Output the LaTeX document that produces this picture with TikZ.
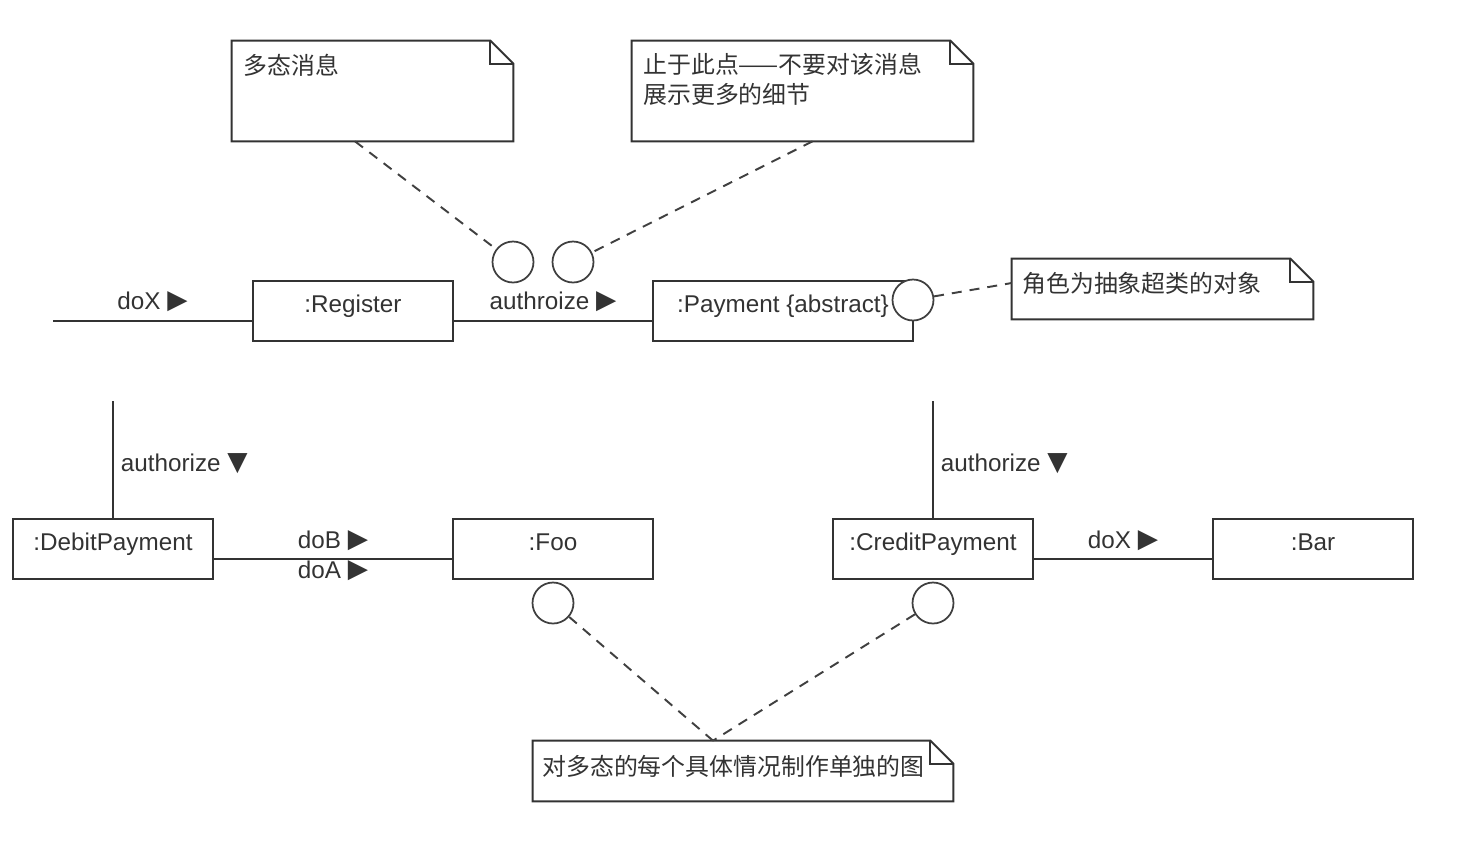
\documentclass[tikz,border=0pt]{standalone}
\usepackage{fontspec}
\setmainfont{Liberation Sans}
\newfontfamily\cjkfont{Noto Sans CJK SC}
\newfontfamily\symfont{DejaVu Sans}
\newcommand\rtri{\raisebox{0.04em}{\symfont\fontsize{15pt}{15pt}\selectfont ▶}}
\newcommand\dtri{\raisebox{0.04em}{\symfont\fontsize{15pt}{15pt}\selectfont ▼}}
% outline of a UML note with a folded top-right corner
\newcommand\notefold[1]{%
  \draw[noteline] (#1.north west) -- ([xshift=-0.46cm]#1.north east)
    -- ([yshift=-0.46cm]#1.north east) -- (#1.south east) -- (#1.south west) -- cycle;
  \draw[noteline] ([xshift=-0.46cm]#1.north east)
    -- ([xshift=-0.46cm,yshift=-0.46cm]#1.north east) -- ([yshift=-0.46cm]#1.north east);}

\begin{document}
\begin{tikzpicture}[x=0.02cm, y=-0.02cm,
  font=\fontsize{13.8pt}{17pt}\selectfont,
  obj/.style={draw=black!80, line width=1.1pt, fill=white, minimum width=4cm,
    minimum height=1.2cm, inner sep=0pt, text=black!80,
    text height=0.72em, text depth=0.5em},
  notebody/.style={rectangle, draw=none, inner sep=0pt},
  noteline/.style={draw=black!80, line width=1.1pt, line join=miter},
  notetext/.style={inner sep=0pt, text=black!80,
    font=\cjkfont\fontsize{13.6pt}{17pt}\selectfont},
  port/.style={circle, draw=black!75, line width=1pt, fill=white,
    minimum size=0.82cm, inner sep=0pt},
  conn/.style={draw=black!80, line width=1.1pt},
  dashline/.style={draw=black!75, line width=1.1pt, dash pattern=on 0.2cm off 0.16cm},
  lbl/.style={inner sep=0pt, text=black!80, text height=0.72em, text depth=0pt}]

\useasboundingbox (0,0) rectangle (1474,840);

% notes
\node[notebody, minimum width=5.62cm, minimum height=2cm] (n1) at (372.5,91) {};
\node[notebody, minimum width=6.82cm, minimum height=2cm] (n2) at (802.5,91) {};
\node[notebody, minimum width=6.02cm, minimum height=1.2cm] (n3) at (1162.5,289) {};
\node[notebody, minimum width=8.4cm, minimum height=1.2cm] (n4) at (743,771) {};
\notefold{n1}
\notefold{n2}
\notefold{n3}
\notefold{n4}
\node[notetext, anchor=west] (t1) at (243,65) {多态消息};
\node[notetext, anchor=north west, align=left] (t2) at (643,53)
  {止于此点——不要对该消息\\展示更多的细节};
\node[notetext, anchor=west] (t3) at (1022,283) {角色为抽象超类的对象};
\node[notetext, anchor=west] (t4) at (542,766) {对多态的每个具体情况制作单独的图};

% objects
\node[obj] (reg) at (353,311) {:Register};
\node[obj, minimum width=5.2cm] (pay) at (783,311) {:Payment \{abstract\}\hspace{0.08cm}};
\node[obj] (deb) at (113,549) {:DebitPayment};
\node[obj] (foo) at (553,549) {:Foo};
\node[obj] (cre) at (933,549) {:CreditPayment};
\node[obj] (bar) at (1313,549) {:Bar};

% links and messages
\coordinate (s0) at (53,321);
\coordinate (s1) at (113,401);
\coordinate (s2) at (933,401);
\draw[conn] (s0) -- ([yshift=-0.2cm]reg.west)
  node[lbl, midway, yshift=0.35cm] {doX \rtri};
\draw[conn] ([yshift=-0.2cm]reg.east) -- ([yshift=-0.2cm]pay.west)
  node[lbl, midway, yshift=0.35cm] {authroize \rtri};
\draw[conn] (s1) -- (deb.north)
  node[lbl, pos=0.545, anchor=west, xshift=0.14cm] {authorize \dtri};
\draw[conn] (s2) -- (cre.north)
  node[lbl, pos=0.545, anchor=west, xshift=0.14cm] {authorize \dtri};
\draw[conn] ([yshift=-0.2cm]deb.east) -- ([yshift=-0.2cm]foo.west)
  node[lbl, midway, yshift=0.34cm] {doB \rtri}
  node[lbl, midway, yshift=-0.26cm] {doA \rtri};
\draw[conn] ([yshift=-0.2cm]cre.east) -- ([yshift=-0.2cm]bar.west)
  node[lbl, midway, yshift=0.34cm] {doX \rtri};

% attachment points
\node[port] (c1) at (513,262) {};
\node[port] (c2) at (573,262) {};
\node[port] (c3) at (913,300) {};
\node[port] (c4) at (553,603) {};
\node[port] (c5) at (933,603) {};

% note anchors
\draw[dashline] ([xshift=-0.35cm]n1.south) -- (c1);
\draw[dashline] ([xshift=0.2cm]n2.south) -- (c2);
\draw[dashline] (c3) -- ([yshift=0.12cm]n3.west);
\draw[dashline] (c4) -- ([xshift=-0.6cm]n4.north);
\draw[dashline] (c5) -- ([xshift=-0.6cm]n4.north);
\end{tikzpicture}
\end{document}
